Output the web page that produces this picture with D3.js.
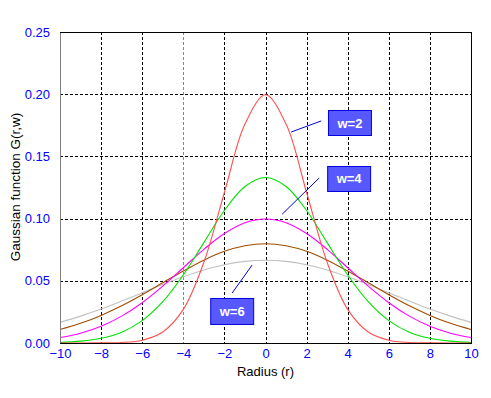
<!DOCTYPE html>
<html>
<head>
<meta charset="utf-8">
<script src="https://cdn.jsdelivr.net/npm/d3@7"></script>
<style>
  body { margin: 0; background: #fff; }
  svg { display: block; }
</style>
</head>
<body>
<svg></svg>
<script>
const WIDTH = 491;
const HEIGHT = 398;
const LEFT = 60;
const RIGHT = 471;
const TOP = 32;
const BOTTOM = 343;

// data (radius -10..10, step 1)
const radius = [-10, -9, -8, -7, -6, -5, -4, -3, -2, -1, 0, 1, 2, 3, 4, 5, 6, 7, 8, 9, 10];
const w2 = [0.0000, 0.0000, 0.0001, 0.0004, 0.0022, 0.0088, 0.0270, 0.0648, 0.1210, 0.1760, 0.1995,
            0.1760, 0.1210, 0.0648, 0.0270, 0.0088, 0.0022, 0.0004, 0.0001, 0.0000, 0.0000];
const w3 = [0.0005, 0.0015, 0.0038, 0.0087, 0.0180, 0.0332, 0.0547, 0.0807, 0.1065, 0.1258, 0.1330,
            0.1258, 0.1065, 0.0807, 0.0547, 0.0332, 0.0180, 0.0087, 0.0038, 0.0015, 0.0005];
const w4 = [0.0044, 0.0079, 0.0135, 0.0216, 0.0324, 0.0457, 0.0605, 0.0753, 0.0880, 0.0967, 0.0997,
            0.0967, 0.0880, 0.0753, 0.0605, 0.0457, 0.0324, 0.0216, 0.0135, 0.0079, 0.0044];
const w5 = [0.0108, 0.0158, 0.0222, 0.0299, 0.0388, 0.0484, 0.0579, 0.0666, 0.0737, 0.0782, 0.0798,
            0.0782, 0.0737, 0.0666, 0.0579, 0.0484, 0.0388, 0.0299, 0.0222, 0.0158, 0.0108];
const w6 = [0.0166, 0.0216, 0.0273, 0.0337, 0.0403, 0.0470, 0.0532, 0.0587, 0.0629, 0.0656, 0.0665,
            0.0656, 0.0629, 0.0587, 0.0532, 0.0470, 0.0403, 0.0337, 0.0273, 0.0216, 0.0166];

const xTicks = [-10, -8, -6, -4, -2, 0, 2, 4, 6, 8, 10];
const yTicks = [0, 0.05, 0.10, 0.15, 0.20, 0.25];

const series = [
  { values: w6, color: '#c0c0c0' },
  { values: w5, color: '#a04c00' },
  { values: w4, color: '#ff00ff' },
  { values: w3, color: '#00e000' },
  { values: w2, color: '#ff5050' }
];

// labels: box corners and pointer lines in data units
const labels = [
  { text: 'w=2', box: [3.04, 0.1873, 5.13, 0.1672], line: [1.25, 0.1696, 2.71, 0.1785] },
  { text: 'w=4', box: [3.00, 0.1423, 5.09, 0.1222], line: [0.81, 0.1035, 2.61, 0.1326] },
  { text: 'w=6', box: [-2.69, 0.0362, -0.60, 0.0153], line: [-1.62, 0.0402, -0.65, 0.0627] }
];

const svg = d3.select('svg')
  .attr('width', WIDTH)
  .attr('height', HEIGHT)
  .attr('font-family', '"Liberation Sans", Arial, sans-serif');

const xScale = d3.scaleLinear().domain([-10, 10]).range([LEFT, RIGHT]);
const yScale = d3.scaleLinear().domain([0, 0.25]).range([BOTTOM, TOP]);

// grid
svg.append('g')
  .selectAll('line')
  .data(xTicks.filter(d => d > -10 && d < 10))
  .enter()
  .append('line')
  .attr('x1', d => Math.round(xScale(d)) + 0.5)
  .attr('x2', d => Math.round(xScale(d)) + 0.5)
  .attr('y1', TOP)
  .attr('y2', BOTTOM)
  .attr('stroke', d => d === -4 ? '#888' : '#000')
  .attr('stroke-dasharray', '3,2');

svg.append('g')
  .selectAll('line')
  .data(yTicks.filter(d => d > 0 && d < 0.25))
  .enter()
  .append('line')
  .attr('x1', LEFT)
  .attr('x2', RIGHT)
  .attr('y1', d => Math.round(yScale(d)) + 0.5)
  .attr('y2', d => Math.round(yScale(d)) + 0.5)
  .attr('stroke', '#000')
  .attr('stroke-dasharray', '3,2');

// curves
const line = d3.line()
  .x((d, i) => xScale(radius[i]))
  .y(d => yScale(d))
  .curve(d3.curveCatmullRom);

svg.append('g')
  .selectAll('path')
  .data(series)
  .enter()
  .append('path')
  .attr('d', d => line(d.values))
  .attr('fill', 'none')
  .attr('stroke', d => d.color)
  .attr('stroke-width', 1.1);

// frame
svg.append('line').attr('x1', LEFT + 0.5).attr('x2', LEFT + 0.5).attr('y1', TOP).attr('y2', BOTTOM + 1)
  .attr('stroke', '#808080');
svg.append('line').attr('x1', LEFT).attr('x2', RIGHT + 1).attr('y1', TOP + 0.5).attr('y2', TOP + 0.5)
  .attr('stroke', '#000');
svg.append('line').attr('x1', RIGHT + 0.5).attr('x2', RIGHT + 0.5).attr('y1', TOP).attr('y2', BOTTOM + 1)
  .attr('stroke', '#000');
svg.append('line').attr('x1', LEFT).attr('x2', RIGHT + 1).attr('y1', BOTTOM + 0.5).attr('y2', BOTTOM + 0.5)
  .attr('stroke', '#000');

// axes
const xAxis = d3.axisBottom(xScale).tickValues(xTicks).tickSize(0).tickPadding(6).tickFormat(d3.format('d'));
const gx = svg.append('g')
  .attr('transform', `translate(0, ${BOTTOM})`)
  .call(xAxis);
gx.select('.domain').remove();
gx.selectAll('text').attr('fill', '#0000ff').attr('font-size', 13).attr('font-family', '"Liberation Sans", Arial, sans-serif');

const yAxis = d3.axisLeft(yScale).tickValues(yTicks).tickSize(0).tickPadding(10).tickFormat(d3.format('.2f'));
const gy = svg.append('g')
  .attr('transform', `translate(${LEFT}, 0)`)
  .call(yAxis);
gy.select('.domain').remove();
gy.selectAll('text').attr('fill', '#0000ff').attr('font-size', 13).attr('font-family', '"Liberation Sans", Arial, sans-serif');

// titles
svg.append('text')
  .text('Radius (r)')
  .attr('x', xScale(0))
  .attr('y', 376)
  .attr('text-anchor', 'middle')
  .attr('font-size', 13)
  .attr('fill', '#000');

svg.append('text')
  .text('Gaussian function G(r,w)')
  .attr('transform', 'translate(20, 187) rotate(-90)')
  .attr('text-anchor', 'middle')
  .attr('font-size', 13.5)
  .attr('fill', '#000');

// labels
const lab = svg.append('g');
lab.selectAll('line')
  .data(labels)
  .enter()
  .append('line')
  .attr('x1', d => xScale(d.line[0]))
  .attr('y1', d => yScale(d.line[1]))
  .attr('x2', d => xScale(d.line[2]))
  .attr('y2', d => yScale(d.line[3]))
  .attr('stroke', '#0000e0');

lab.selectAll('rect')
  .data(labels)
  .enter()
  .append('rect')
  .attr('x', d => xScale(d.box[0]) + 0.5)
  .attr('y', d => yScale(d.box[1]) + 0.5)
  .attr('width', d => xScale(d.box[2]) - xScale(d.box[0]))
  .attr('height', d => yScale(d.box[3]) - yScale(d.box[1]))
  .attr('fill', '#5858ff')
  .attr('stroke', '#0000e0');

lab.selectAll('text')
  .data(labels)
  .enter()
  .append('text')
  .text(d => d.text)
  .attr('x', d => (xScale(d.box[0]) + xScale(d.box[2])) / 2 + 0.5)
  .attr('y', d => (yScale(d.box[1]) + yScale(d.box[3])) / 2 + 5)
  .attr('text-anchor', 'middle')
  .attr('font-size', 13)
  .attr('font-weight', 'bold')
  .attr('fill', '#fff');
</script>
</body>
</html>
